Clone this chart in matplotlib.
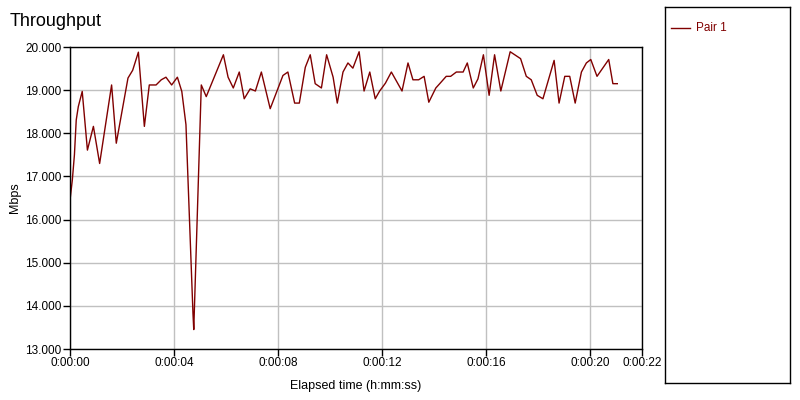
import matplotlib.pyplot as plt
from matplotlib.ticker import FuncFormatter

# elapsed time (s) and throughput (Mbps)
elapsed_s = [0.00, 0.09, 0.17, 0.24, 0.32, 0.47, 0.67, 0.90, 1.14, 1.60,
             1.78, 2.23, 2.41, 2.63, 2.86, 3.05, 3.31, 3.51, 3.69, 3.91,
             4.13, 4.30, 4.46, 4.73, 4.76, 5.05, 5.24, 5.90, 6.08, 6.28,
             6.51, 6.70, 6.93, 7.13, 7.36, 7.70, 8.19, 8.38, 8.64, 8.82,
             9.05, 9.24, 9.43, 9.67, 9.87, 10.12, 10.28, 10.50, 10.69, 10.88,
             11.12, 11.31, 11.53, 11.74, 11.91, 12.13, 12.36, 12.77, 13.00, 13.19,
             13.41, 13.62, 13.80, 14.07, 14.22, 14.47, 14.64, 14.86, 15.12, 15.28,
             15.51, 15.69, 15.90, 16.12, 16.33, 16.57, 16.93, 17.33, 17.55, 17.74,
             17.97, 18.19, 18.62, 18.81, 19.03, 19.22, 19.43, 19.67, 19.86, 20.03,
             20.27, 20.72, 20.88, 21.05]
pair1_mbps = [16.45, 16.92, 17.50, 18.31, 18.62, 18.97, 17.61, 18.16, 17.30, 19.12,
              17.77, 19.28, 19.46, 19.88, 18.16, 19.12, 19.12, 19.24, 19.30, 19.12,
              19.30, 18.97, 18.20, 13.82, 13.45, 19.12, 18.85, 19.82, 19.30, 19.05,
              19.42, 18.80, 19.03, 18.98, 19.42, 18.57, 19.34, 19.42, 18.70, 18.70,
              19.53, 19.82, 19.15, 19.05, 19.82, 19.30, 18.70, 19.42, 19.63, 19.51,
              19.89, 18.98, 19.42, 18.80, 18.98, 19.16, 19.42, 18.98, 19.63, 19.24,
              19.24, 19.32, 18.72, 19.05, 19.15, 19.32, 19.32, 19.42, 19.42, 19.63,
              19.05, 19.26, 19.82, 18.88, 19.82, 18.98, 19.89, 19.73, 19.32, 19.24,
              18.88, 18.80, 19.69, 18.70, 19.32, 19.32, 18.70, 19.42, 19.63, 19.71,
              19.32, 19.71, 19.15, 19.15]

x_ticks = [0, 4, 8, 12, 16, 20, 22]
y_ticks = [13, 14, 15, 16, 17, 18, 19, 20]

plt.rcParams['font.family'] = ['Liberation Sans', 'DejaVu Sans']

fig = plt.figure(figsize=(8, 4), dpi=100)
ax = fig.add_axes([0.0875, 0.1275, 0.715, 0.755])

ax.plot(elapsed_s, pair1_mbps, color="#800000", linewidth=1.0, label="Pair 1")

ax.set_xlim(0, 22)
ax.set_ylim(13, 20)
ax.set_xticks(x_ticks)
ax.set_yticks(y_ticks)
ax.xaxis.set_major_formatter(FuncFormatter(lambda v, p: "0:00:%02d" % int(round(v))))
ax.yaxis.set_major_formatter(FuncFormatter(lambda v, p: "%.3f" % v))
ax.tick_params(labelsize=8.5, length=5, width=1, direction="out", pad=1)
ax.grid(True, color="#c0c0c0", linewidth=1)
ax.set_axisbelow(True)
for s in ax.spines.values():
    s.set_color("black")
    s.set_linewidth(1)

ax.set_xlabel("Elapsed time (h:mm:ss)", fontsize=9, labelpad=8)
ax.set_ylabel("Mbps", fontsize=9, labelpad=3)
fig.text(0.0125, 0.945, "Throughput", fontsize=13, va="center", ha="left")

# legend panel on the right
lax = fig.add_axes([0.8315, 0.0425, 0.156, 0.94])
lax.set_xticks([])
lax.set_yticks([])
for s in lax.spines.values():
    s.set_color("black")
    s.set_linewidth(1)
lax.set_xlim(0, 125)
lax.set_ylim(376, 0)
lax.plot([6, 25], [21, 21], color="#800000", linewidth=1)
lax.text(31, 21, "Pair 1", color="#800000", fontsize=8.5, va="center", ha="left")

fig.savefig("out.png", dpi=100)
